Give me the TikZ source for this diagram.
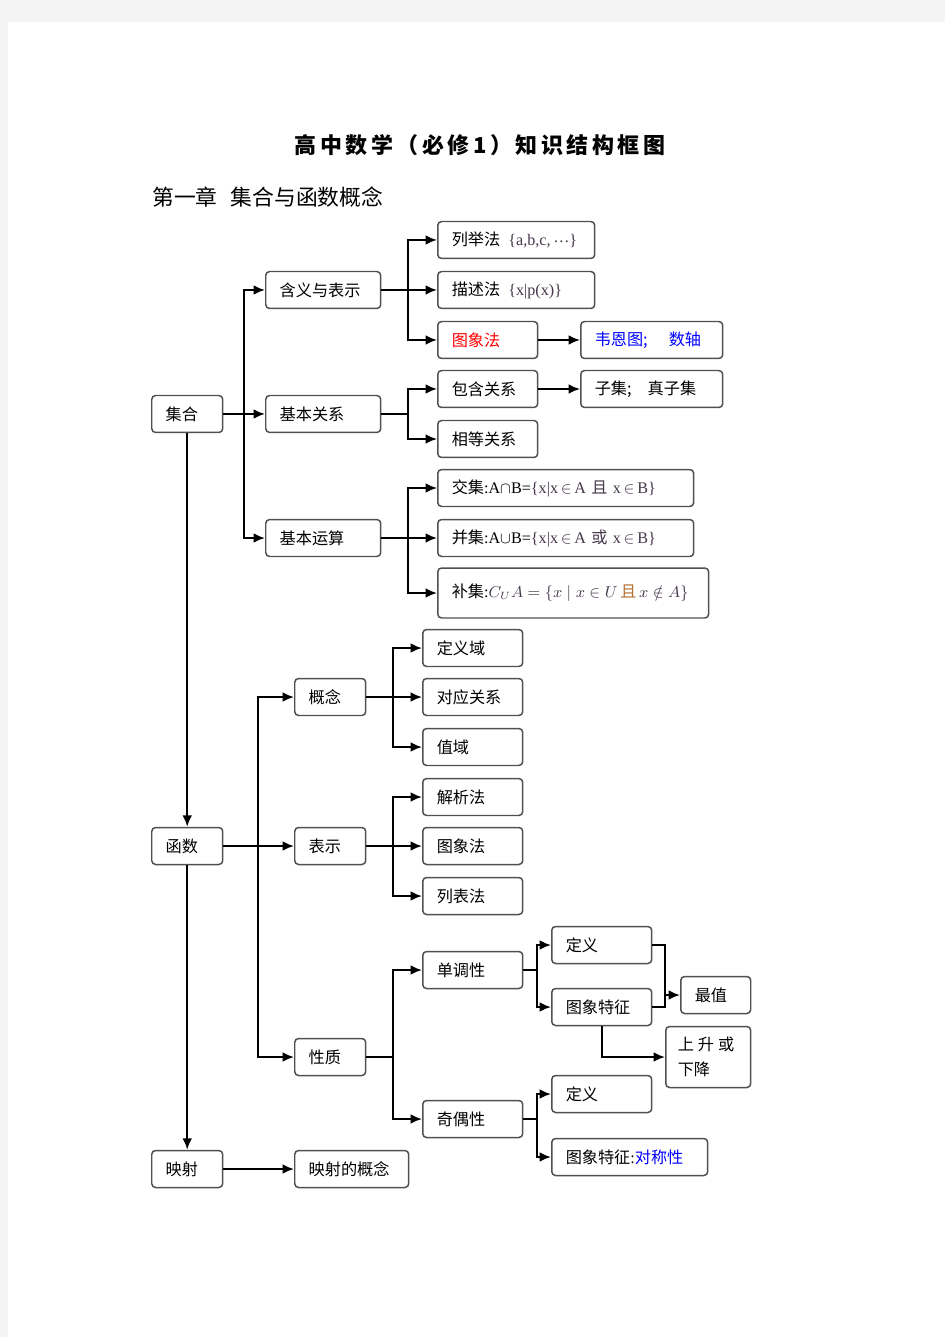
\documentclass[tikz,border=0pt]{standalone}
\usepackage{amsmath}
\usepackage{amssymb}
\usepackage{xcolor}
\usepackage{fontspec}
\usetikzlibrary{arrows.meta}
\setmainfont{Liberation Serif}
\newfontfamily\cjk{Noto Sans CJK SC}
\newfontfamily\titlefont[LetterSpace=16]{Noto Sans CJK SC}
\definecolor{boxgray}{RGB}{80,80,80}
\definecolor{pagegray}{RGB}{244,244,244}
\definecolor{mathc}{RGB}{70,55,75}
\definecolor{qiecol}{RGB}{176,112,48}

\begin{document}
\begin{tikzpicture}[x=0.02cm, y=-0.02cm,
    box/.style={draw=boxgray, line width=0.85pt, rounded corners=2.2pt, fill=white,
        minimum height=0.74cm, inner xsep=0.28cm, inner ysep=0pt, anchor=west, align=left,
        font=\cjk\fontsize{9.2}{14}\selectfont},
    ln/.style={line width=1.1pt},
    arr/.style={line width=1.1pt, -{Latex[length=6.5pt,width=5.5pt]}}]

    % Page
    \fill[pagegray] (0,0) rectangle (945,1337);
    \fill[white] (8,22) rectangle (945,1337);
    \useasboundingbox (0,0) rectangle (945,1337);

    % Title
    \node[font=\titlefont\bfseries\fontsize{12.5}{14}\selectfont] (title) at (480,145) {高中数学（必修1）知识结构框图};
    \node[anchor=west, inner sep=0pt, font=\cjk\fontsize{12.4}{14}\selectfont] (chapter) at (152,197) {第一章\hspace{0.6em}集合与函数概念};

    % Sets
    \node[box, text width=0.86cm] (jihe) at (151,414) {集合};
    \node[box, text width=1.74cm] (hanyi) at (265,290) {含义与表示};
    \node[box, text width=1.74cm] (guanxi) at (265,414) {基本关系};
    \node[box, text width=1.74cm] (yunsuan) at (265,538) {基本运算};

    \node[box, text width=2.58cm] (liju) at (437,240) {列举法\hspace{0.5em}{\rmfamily\color{mathc}\{a,b,c,\,\raisebox{0.22em}{…}\}}};
    \node[box, text width=2.58cm] (miaoshu) at (437,290) {描述法\hspace{0.5em}{\rmfamily\color{mathc}\{x|p(x)\}}};
    \node[box, text width=1.44cm, text=red] (tuxiang) at (437,340) {图象法};
    \node[box, text width=2.28cm, text=blue] (venn) at (580,340) {韦恩图;\hspace{1.3em}数轴};
    \node[box, text width=1.44cm] (baohan) at (437,389) {包含关系};
    \node[box, text width=2.28cm] (ziji) at (580,389) {子集;\hspace{1em}真子集};
    \node[box, text width=1.44cm] (xiangdeng) at (437,439) {相等关系};
    \node[box, text width=4.56cm] (jiao) at (437,488) {交集{\rmfamily :A$\cap$B=\textcolor{mathc}{\{x|x\,$\in$\,A {\cjk 且} x\,$\in$\,B\}}}};
    \node[box, text width=4.56cm] (bing) at (437,538) {并集{\rmfamily :A$\cup$B=\textcolor{mathc}{\{x|x\,$\in$\,A {\cjk 或} x\,$\in$\,B\}}}};
    \node[box, text width=4.86cm, minimum height=1.0cm] (bu) at (437,593) {\raisebox{-3pt}{补集{\rmfamily :}{\color{mathc}$C_U A=\{x\mid x\in U$\,\textcolor{qiecol}{\cjk 且}\,$x\notin A\}$}}};

    \coordinate (t1) at (244,414);
    \draw[ln] (jihe.east) -- (t1);
    \draw[arr] (t1) |- (hanyi.west);
    \draw[arr] (t1) -- (guanxi.west);
    \draw[arr] (t1) |- (yunsuan.west);

    \coordinate (t2) at (408,290);
    \draw[ln] (hanyi.east) -- (t2);
    \draw[arr] (t2) |- (liju.west);
    \draw[arr] (t2) -- (miaoshu.west);
    \draw[arr] (t2) |- (tuxiang.west);
    \draw[arr] (tuxiang.east) -- (venn.west);

    \coordinate (t3) at (408,414);
    \draw[ln] (guanxi.east) -- (t3);
    \draw[arr] (t3) |- (baohan.west);
    \draw[arr] (t3) |- (xiangdeng.west);
    \draw[arr] (baohan.east) -- (ziji.west);

    \coordinate (t4) at (408,538);
    \draw[ln] (yunsuan.east) -- (t4);
    \draw[arr] (t4) |- (jiao.west);
    \draw[arr] (t4) -- (bing.west);
    \draw[arr] (t4) |- (bu.west);

    % Functions
    \node[box, text width=0.86cm] (hanshu) at (151,846) {函数};
    \node[box, text width=0.86cm] (gainian) at (294,697) {概念};
    \node[box, text width=0.86cm] (biaoshi) at (294,846) {表示};
    \node[box, text width=0.86cm] (xingzhi) at (294,1057) {性质};

    \node[box, text width=1.44cm] (dingyiyu) at (422,648) {定义域};
    \node[box, text width=1.44cm] (duiying) at (422,697) {对应关系};
    \node[box, text width=1.44cm] (zhiyu) at (422,747) {值域};
    \node[box, text width=1.44cm] (jiexi) at (422,797) {解析法};
    \node[box, text width=1.44cm] (tuxiangfa) at (422,846) {图象法};
    \node[box, text width=1.44cm] (liebiao) at (422,896) {列表法};
    \node[box, text width=1.44cm] (dandiao) at (422,970) {单调性};
    \node[box, text width=1.44cm] (qiou) at (422,1119) {奇偶性};

    \node[box, text width=1.44cm] (dingyia) at (551,945) {定义};
    \node[box, text width=1.44cm] (tezhenga) at (551,1007) {图象特征};
    \node[box, text width=0.84cm] (zuizhi) at (680,995) {最值};
    \node[box, text width=1.22cm, inner xsep=0.24cm, minimum height=1.22cm] (shengjiang) at (665,1057) {上\hspace{0.25em}升\hspace{0.25em}或\\下降};
    \node[box, text width=1.44cm] (dingyib) at (551,1094) {定义};
    \node[box, text width=2.56cm] (tezhengb) at (551,1157) {图象特征{\rmfamily :}\textcolor{blue}{对称性}};

    \draw[arr] (jihe.south) -- (hanshu.north);

    \coordinate (t5) at (258,846);
    \draw[ln] (hanshu.east) -- (t5);
    \draw[arr] (t5) |- (gainian.west);
    \draw[arr] (t5) -- (biaoshi.west);
    \draw[arr] (t5) |- (xingzhi.west);

    \coordinate (t6) at (393,697);
    \draw[ln] (gainian.east) -- (t6);
    \draw[arr] (t6) |- (dingyiyu.west);
    \draw[arr] (t6) -- (duiying.west);
    \draw[arr] (t6) |- (zhiyu.west);

    \coordinate (t7) at (393,846);
    \draw[ln] (biaoshi.east) -- (t7);
    \draw[arr] (t7) |- (jiexi.west);
    \draw[arr] (t7) -- (tuxiangfa.west);
    \draw[arr] (t7) |- (liebiao.west);

    \coordinate (t8) at (393,1057);
    \draw[ln] (xingzhi.east) -- (t8);
    \draw[arr] (t8) |- (dandiao.west);
    \draw[arr] (t8) |- (qiou.west);

    \coordinate (t9) at (537,970);
    \draw[ln] (dandiao.east) -- (t9);
    \draw[arr] (t9) |- (dingyia.west);
    \draw[arr] (t9) |- (tezhenga.west);

    \coordinate (jn) at (665,995);
    \draw[ln] (dingyia.east) -| (jn);
    \draw[ln] (tezhenga.east) -| (jn);
    \draw[arr] (jn) -- (zuizhi.west);
    \draw[arr] (tezhenga.south) |- (shengjiang.west);

    \coordinate (t10) at (537,1119);
    \draw[ln] (qiou.east) -- (t10);
    \draw[arr] (t10) |- (dingyib.west);
    \draw[arr] (t10) |- (tezhengb.west);

    % Mapping
    \node[box, text width=0.86cm] (yingshe) at (151,1169) {映射};
    \node[box, text width=1.72cm] (yinggn) at (294,1169) {映射的概念};
    \draw[arr] (hanshu.south) -- (yingshe.north);
    \draw[arr] (yingshe.east) -- (yinggn.west);

\end{tikzpicture}
\end{document}
